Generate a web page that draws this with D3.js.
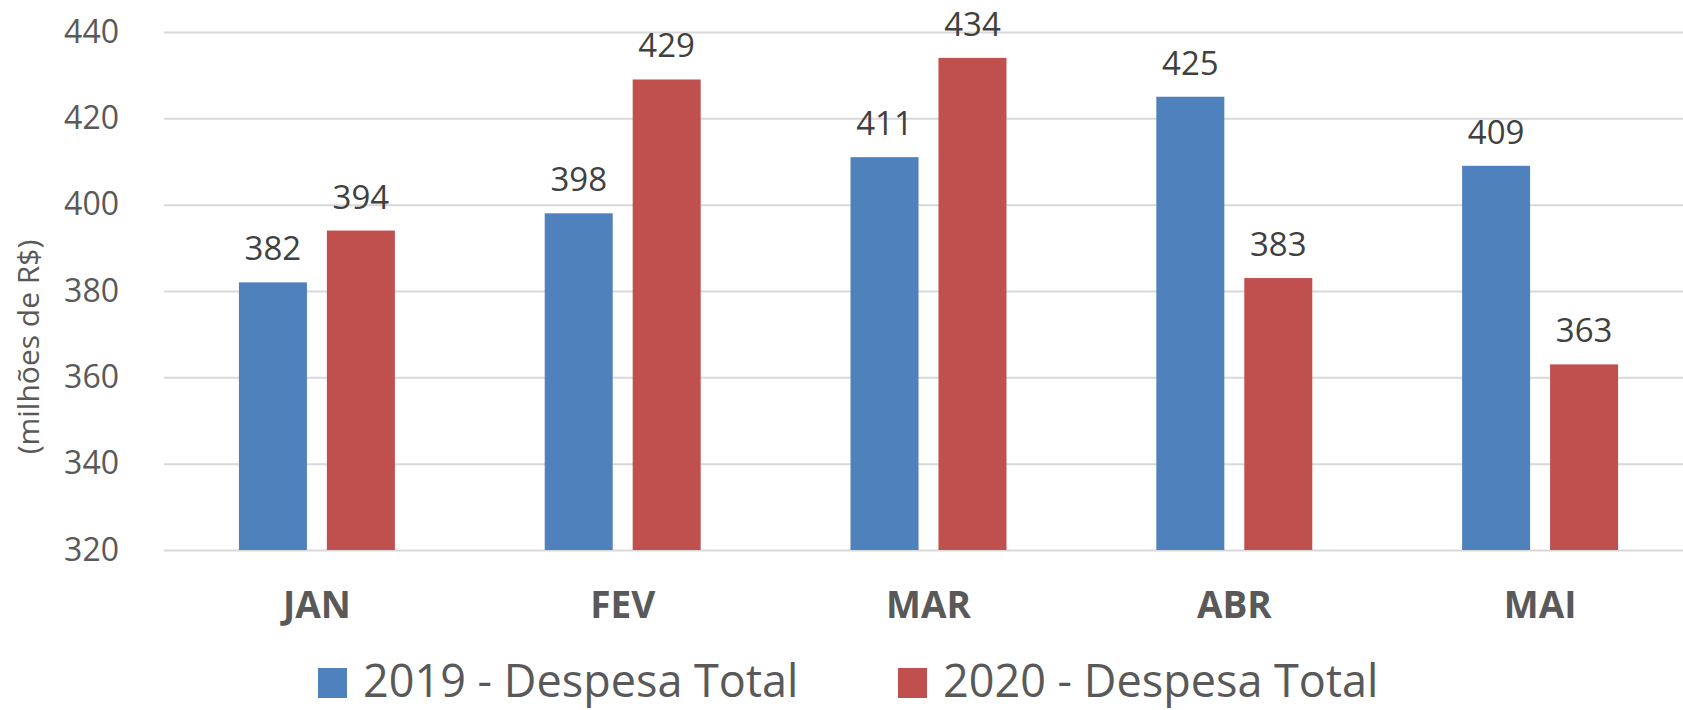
<!DOCTYPE html>
<html>
<head>
<meta charset="utf-8">
<script src="https://cdn.jsdelivr.net/npm/d3@7"></script>
<style>
  body { margin: 0; background: #fff; }
  svg { display: block; font-family: "Open Sans", sans-serif; }
</style>
</head>
<body>
<svg id="chart"></svg>
<script>
// data
const months = ['JAN', 'FEV', 'MAR', 'ABR', 'MAI'];
const seriesNames = ['2019 - Despesa Total', '2020 - Despesa Total'];
const values2019 = [382, 398, 411, 425, 409];
const values2020 = [394, 429, 434, 383, 363];
const yTicks = [320, 340, 360, 380, 400, 420, 440];
const colors = ['#4f81bd', '#c0504d'];

const width = 1683;
const height = 710;
const margin = { top: 32, left: 164, bottom: 160 };

const svg = d3.select('#chart')
  .attr('width', width)
  .attr('height', height);

const y = d3.scaleLinear()
  .domain([320, 440])
  .range([height - margin.bottom, margin.top]);

const x = d3.scaleBand()
  .domain(months)
  .range([margin.left, 1693])
  .paddingInner(0.49)
  .paddingOuter(0.245);

const xSub = d3.scaleBand()
  .domain(seriesNames)
  .range([0, x.bandwidth()])
  .paddingInner(0.227);

// gridlines + tick labels
const yAxis = svg.append('g')
  .attr('transform', `translate(${margin.left},0)`)
  .call(d3.axisLeft(y)
    .tickValues(yTicks)
    .tickSize(-(width - margin.left))
    .tickPadding(45));
yAxis.select('.domain').remove();
yAxis.selectAll('.tick line')
  .attr('stroke', '#d9d9d9')
  .attr('stroke-width', 2);
yAxis.selectAll('.tick text')
  .attr('fill', '#595959')
  .attr('font-size', 32)
  .attr('font-family', '"Open Sans", sans-serif');

// y title
svg.append('text')
  .attr('transform', `translate(39,347) rotate(-90)`)
  .attr('text-anchor', 'middle')
  .attr('fill', '#595959')
  .attr('font-size', 30)
  .text('(milhões de R$)');

// bars
const rows = months.map((m, i) => ({ month: m, vals: [values2019[i], values2020[i]] }));

const groups = svg.append('g')
  .selectAll('g')
  .data(rows)
  .join('g')
  .attr('transform', d => `translate(${x(d.month)},0)`);

groups.selectAll('rect')
  .data(d => d.vals.map((v, j) => ({ name: seriesNames[j], v: v, j: j })))
  .join('rect')
  .attr('x', d => xSub(d.name))
  .attr('width', xSub.bandwidth())
  .attr('y', d => y(d.v))
  .attr('height', d => y(320) - y(d.v))
  .attr('fill', d => colors[d.j]);

groups.selectAll('text')
  .data(d => d.vals.map((v, j) => ({ name: seriesNames[j], v: v })))
  .join('text')
  .attr('x', d => xSub(d.name) + xSub.bandwidth() / 2)
  .attr('y', d => y(d.v) - 22)
  .attr('text-anchor', 'middle')
  .attr('fill', '#404040')
  .attr('font-size', 33)
  .text(d => d.v);

// category axis
const xAxis = svg.append('g')
  .attr('transform', `translate(0,${y(320)})`)
  .call(d3.axisBottom(x).tickSize(0).tickPadding(0));
xAxis.select('.domain').remove();
xAxis.selectAll('.tick text')
  .attr('dy', null)
  .attr('y', 68)
  .attr('fill', '#595959')
  .attr('font-size', 37)
  .attr('font-weight', 'bold')
  .attr('font-family', '"Open Sans", sans-serif');

// legend
const legendX = [318, 898];
const legend = svg.append('g')
  .selectAll('g')
  .data(seriesNames)
  .join('g')
  .attr('transform', (d, i) => `translate(${legendX[i]},668)`);
legend.append('rect')
  .attr('width', 29)
  .attr('height', 30)
  .attr('fill', (d, i) => colors[i]);
legend.append('text')
  .attr('x', 45)
  .attr('y', 29)
  .attr('fill', '#595959')
  .attr('font-size', 45)
  .text(d => d);
</script>
</body>
</html>
